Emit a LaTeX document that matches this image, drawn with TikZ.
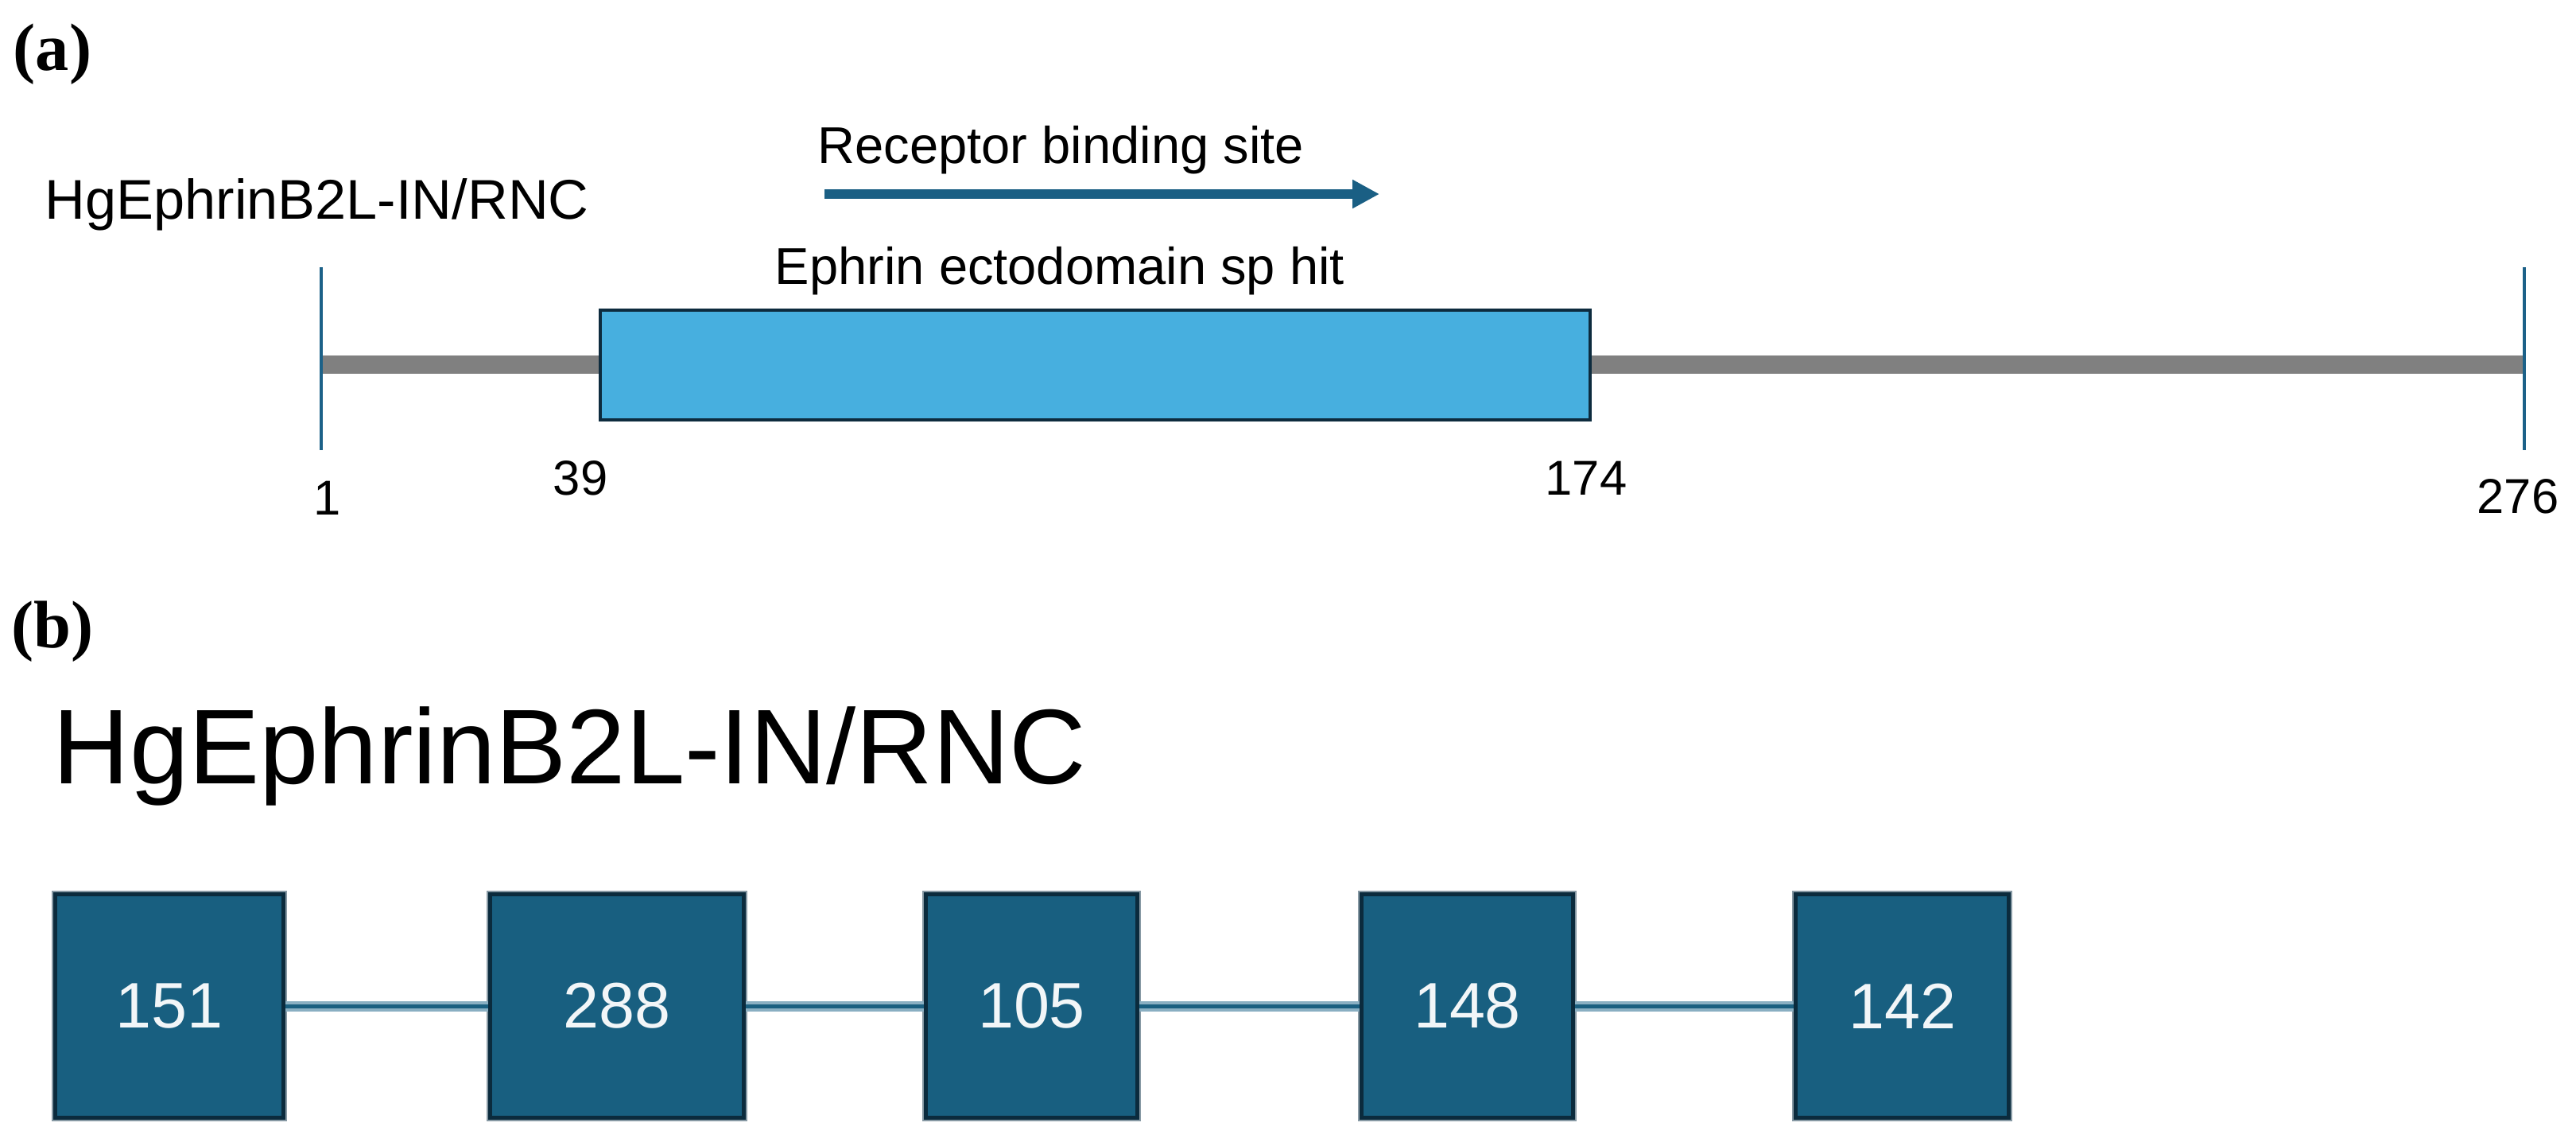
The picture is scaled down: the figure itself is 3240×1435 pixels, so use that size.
\documentclass[tikz,border=0pt]{standalone}
\usepackage{fontspec}
\setmainfont{Liberation Sans}
\newfontfamily\panelfont{Liberation Serif}
\usetikzlibrary{arrows.meta}
\definecolor{tickcol}{HTML}{1C6188}
\definecolor{arrowcol}{HTML}{1A5F84}
\definecolor{barcol}{HTML}{808080}
\definecolor{domfill}{HTML}{47AFDF}
\definecolor{domdraw}{HTML}{0D2B3E}
\definecolor{exfill}{HTML}{185F80}
\definecolor{exdraw}{HTML}{0B2B3D}
\definecolor{exhalo}{HTML}{8799A4}
\definecolor{connlight}{HTML}{8AAFC2}
\definecolor{conndark}{HTML}{1A5F80}
\definecolor{numwhite}{HTML}{F2F6F8}
\begin{document}
\begin{tikzpicture}[x=0.01cm,y=-0.01cm,
  panel/.style={inner sep=0pt, anchor=base west, font=\fontsize{24pt}{28pt}\selectfont\panelfont\bfseries},
  lbl/.style={inner sep=0pt, font=\fontsize{18.5pt}{22pt}\selectfont},
  posnum/.style={inner sep=0pt, anchor=base, font=\fontsize{17.5pt}{21pt}\selectfont},
  tickline/.style={draw=tickcol, line width=0.04cm},
  backbone/.style={draw=barcol, line width=0.23cm},
  dombox/.style={draw=domdraw, fill=domfill, line width=0.04cm, inner sep=0pt,
     minimum width=12.45cm, minimum height=1.38cm},
  exon/.style={preaction={draw=exhalo, line width=0.09cm}, draw=exdraw, fill=exfill,
     line width=0.05cm, inner sep=0pt, minimum height=2.80cm, text=numwhite,
     font=\fontsize{23pt}{27pt}\selectfont},
  conn/.style={preaction={draw=connlight, line width=0.13cm}, draw=conndark, line width=0.05cm},
  rbs/.style={draw=arrowcol, line width=0.12cm, -{Triangle[length=0.34cm,width=0.34cm]}}
]
\useasboundingbox (0,0) rectangle (3240,1435);

% ---------- panel (a) ----------
\node[panel] (pa) at (16,88) {(a)};
\node[lbl, anchor=base west, font=\fontsize{20pt}{24pt}\selectfont] (namea) at (56,275) {HgEphrinB2L-IN/RNC};
\node[lbl, anchor=base west] (rbstext) at (1028,205) {Receptor binding site};
\coordinate (rbsstart) at (1037,244);
\coordinate (rbsend) at (1735,244);
\draw[rbs] (rbsstart) -- (rbsend);

\coordinate (s) at (404,458.5);
\coordinate (e) at (3175,458.5);
\draw[backbone] (s) -- (e);
\coordinate (t1top) at (404,336);
\coordinate (t1bot) at (404,566);
\coordinate (t2top) at (3175,336);
\coordinate (t2bot) at (3175,566);
\draw[tickline] (t1top) -- (t1bot);
\draw[tickline] (t2top) -- (t2bot);

\node[dombox] (dom) at (1377.5,459) {};
\node[lbl, anchor=base] (domtext) at (1333,357) {Ephrin ectodomain sp hit};

\node[posnum] (n1) at (412,647) {1};
\node[posnum] (n39) at (730,622) {39};
\node[posnum] (n174) at (1995,622) {174};
\node[posnum] (n276) at (3167,645) {276};

% ---------- panel (b) ----------
\node[panel] (pb) at (14,814) {(b)};
\node[inner sep=0pt, anchor=base west, font=\fontsize{38pt}{44pt}\selectfont] (nameb) at (66,985) {HgEphrinB2L-IN/RNC};

\node[exon, minimum width=2.87cm] (e1) at (213,1265) {151};
\node[exon, minimum width=3.19cm] (e2) at (776,1265) {288};
\node[exon, minimum width=2.66cm] (e3) at (1297.5,1265) {105};
\node[exon, minimum width=2.66cm] (e4) at (1845.5,1265) {148};
\node[exon, minimum width=2.68cm] (e5) at (2392.5,1265) {142};

\draw[conn] (e1.east) -- (e2.west);
\draw[conn] (e2.east) -- (e3.west);
\draw[conn] (e3.east) -- (e4.west);
\draw[conn] (e4.east) -- (e5.west);
\end{tikzpicture}
\end{document}
